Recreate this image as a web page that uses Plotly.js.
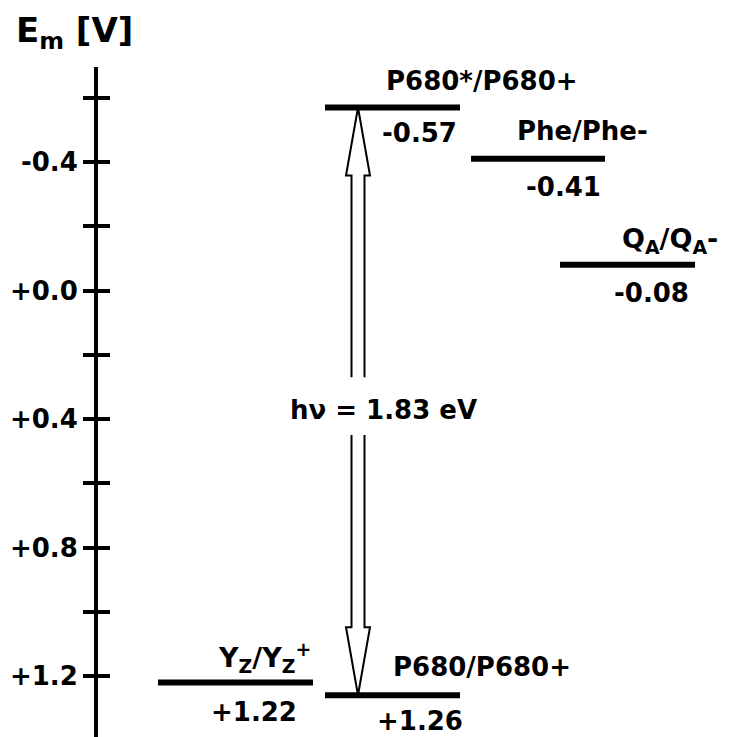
<!DOCTYPE html>
<html><head><meta charset="utf-8">
<script src="https://cdn.plot.ly/plotly-3.0.1.min.js"></script>
<style>html,body{margin:0;padding:0;background:#fff}</style>
</head><body><div id="chart" style="width:736px;height:737px"></div>
<script>
// ---- data ----
const levelNames = ['P680*/P680+', 'Phe/Phe-', 'Q<sub>A</sub>/Q<sub>A</sub>-', 'Y<sub>Z</sub>/Y<sub>Z</sub><sup>+</sup>', 'P680/P680+'];
const levelPotentials = [-0.57, -0.41, -0.08, 1.22, 1.26];
const majorTickValues = [-0.4, 0.0, 0.4, 0.8, 1.2];
const majorTickLabels = ['-0.4', '+0.0', '+0.4', '+0.8', '+1.2'];
const minorTickValues = [-0.6, -0.2, 0.2, 0.6, 1.0];
const excitedIndex = 0, groundIndex = 4;

// ---- layout / positions (x in px from the axis) ----
const barX0 = [227, 373, 462, 60, 227];
const barX1 = [362, 507, 597, 215, 362];
const nameX = [384, 484, 572, 166, 384];
const nameShift = [26, 28, 24, 25, 28];
const valueX = [321, 465, 553, 156, 322];
const valueShift = [-26, -28, -28, -30, -26];
const yRange = [1.39, -0.696];
const plotW = 638, plotH = 670;
const pxPerV = plotH / (yRange[0] - yRange[1]);
const arrowX = 260, shaftHalf = 6.5, headHalf = 12, headLenPx = 68;
const shaftBreakTop = 0.27, shaftBreakBottom = 0.45;
const photonLabelX = 285, photonLabelY = 0.372;

const FONT = {family: 'DejaVu Sans, sans-serif', size: 26, color: '#000', weight: 'bold'};
const NAME_FONT = Object.assign({}, FONT, {size: 27});

const traces = levelPotentials.map((v, i) => ({
  x: [barX0[i], barX1[i]], y: [v, v], mode: 'lines', type: 'scatter',
  line: {color: '#000', width: 6}, hoverinfo: 'skip', showlegend: false
}));
// helper trace for the inner half of the crossing ticks
traces.push({x: [0, 0], y: [levelPotentials[0], levelPotentials[4]], yaxis: 'y2', mode: 'lines',
  line: {width: 0, color: 'rgba(0,0,0,0)'}, hoverinfo: 'skip', showlegend: false});

const fmt = v => (v > 0 ? '+' : '') + v.toFixed(2);
const annotations = [];
levelPotentials.forEach((v, i) => {
  annotations.push({x: nameX[i], y: v, xref: 'x', yref: 'y', text: levelNames[i], showarrow: false,
    yshift: nameShift[i], font: (i === 2 || i === 3) ? NAME_FONT : FONT, xanchor: 'center', yanchor: 'middle'});
  annotations.push({x: valueX[i], y: v, xref: 'x', yref: 'y', text: fmt(v), showarrow: false,
    yshift: valueShift[i], font: FONT, xanchor: 'center', yanchor: 'middle'});
});
const gap = levelPotentials[groundIndex] - levelPotentials[excitedIndex];
annotations.push({x: photonLabelX, y: photonLabelY, xref: 'x', yref: 'y', text: 'h\u03bd = ' + gap.toFixed(2) + ' eV',
  showarrow: false, font: FONT, xanchor: 'center', yanchor: 'middle'});
annotations.push({x: -84 / plotW, y: 1 + 59 / plotH, xref: 'paper', yref: 'paper', text: 'E<sub>m</sub> [V]', showarrow: false,
  font: Object.assign({}, FONT, {size: 34}), xanchor: 'left', yanchor: 'top'});

// arrow outlines
const headLen = headLenPx / pxPerV;
const yTop = levelPotentials[excitedIndex], yBot = levelPotentials[groundIndex];
const L = arrowX - shaftHalf, R = arrowX + shaftHalf, HL = arrowX - headHalf, HR = arrowX + headHalf;
const upPath = `M ${L},${shaftBreakTop} L ${L},${yTop + headLen} L ${HL},${yTop + headLen} L ${arrowX},${yTop} L ${HR},${yTop + headLen} L ${R},${yTop + headLen} L ${R},${shaftBreakTop}`;
const downPath = `M ${L},${shaftBreakBottom} L ${L},${yBot - headLen} L ${HL},${yBot - headLen} L ${arrowX},${yBot} L ${HR},${yBot - headLen} L ${R},${yBot - headLen} L ${R},${shaftBreakBottom}`;
const shapes = [upPath, downPath].map(p => ({type: 'path', path: p, xref: 'x', yref: 'y',
  line: {color: '#000', width: 2}, fillcolor: 'rgba(0,0,0,0)', layer: 'below'}));

const allTicks = majorTickValues.concat(minorTickValues);
const layout = {
  width: 736, height: 737,
  margin: {l: 98, r: 0, t: 67, b: 0, pad: 0},
  paper_bgcolor: '#fff', plot_bgcolor: '#fff',
  showlegend: false,
  xaxis: {range: [0, plotW], visible: false, fixedrange: true},
  yaxis: {range: yRange, showgrid: false, zeroline: false, showline: true, linecolor: '#000', linewidth: 4,
    ticks: 'outside', ticklen: 11, tickwidth: 4, tickcolor: '#000',
    tickmode: 'array', tickvals: majorTickValues, ticktext: majorTickLabels, tickfont: FONT, fixedrange: true,
    minor: {tickmode: 'array', tickvals: minorTickValues, ticks: 'outside', ticklen: 11, tickwidth: 4, tickcolor: '#000', showgrid: false}},
  yaxis2: {range: yRange, overlaying: 'y', side: 'left', showgrid: false, zeroline: false, showline: false,
    ticks: 'inside', ticklen: 12, tickwidth: 4, tickcolor: '#000', showticklabels: false,
    tickmode: 'array', tickvals: allTicks, fixedrange: true},
  shapes: shapes,
  annotations: annotations
};
Plotly.newPlot('chart', traces, layout, {displayModeBar: false, staticPlot: true});
</script></body></html>
